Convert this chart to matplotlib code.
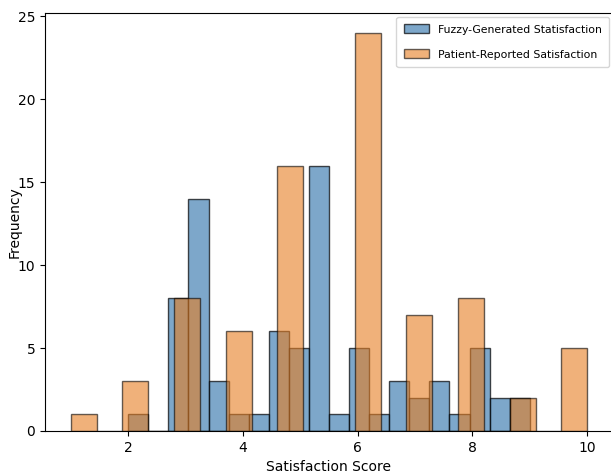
import numpy as np
import matplotlib
matplotlib.use('Agg')
import matplotlib.pyplot as plt

# Histogram counts
fuzzy_edges = np.linspace(2.0, 9.0, 21)
fuzzy_counts = [1, 0, 8, 14, 3, 1, 1, 6, 5, 16, 1, 5, 1, 3, 2, 3, 1, 5, 2, 2]

patient_edges = np.linspace(1.0, 10.0, 21)
patient_counts = [1, 0, 3, 0, 8, 0, 6, 0, 16, 0, 0, 24, 0, 7, 0, 8, 0, 2, 0, 5]

labels = ['Fuzzy-Generated Statisfaction', 'Patient-Reported Satisfaction']

fig = plt.figure(figsize=(6.11, 4.74), dpi=100)
ax = fig.add_axes([45 / 611, 43 / 474, 568 / 611, 418 / 474])

# Two overlapping histograms
ax.hist(fuzzy_edges[:-1], bins=fuzzy_edges, weights=fuzzy_counts,
        color='steelblue', alpha=0.7, edgecolor='black', label=labels[0])
ax.hist(patient_edges[:-1], bins=patient_edges, weights=patient_counts,
        color='#e67e22', alpha=0.6, edgecolor='black', label=labels[1])

ax.set_xlabel('Satisfaction Score')
ax.set_ylabel('Frequency', labelpad=-3)
ax.legend(loc='upper right', fontsize=7.8, labelspacing=1.35,
          borderpad=0.7, handlelength=2.3, handleheight=0.9,
          borderaxespad=0.36)

fig.savefig('out.png', dpi=100)
